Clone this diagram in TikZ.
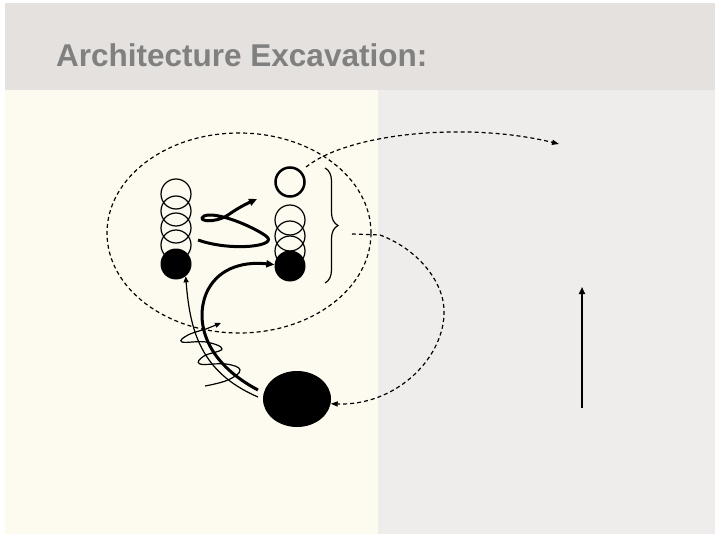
\documentclass[tikz,border=0pt]{standalone}
\usepackage{fontspec}
\setmainfont{Liberation Sans}
\usetikzlibrary{arrows.meta,shapes.geometric,decorations.pathreplacing}
\definecolor{headbg}{RGB}{228,225,222}
\definecolor{leftbg}{RGB}{253,251,240}
\definecolor{rightbg}{RGB}{238,237,235}
\definecolor{titlegray}{RGB}{128,128,128}
\tikzset{
  ring/.style={draw, circle, line width=1.2pt, minimum size=30pt, inner sep=0pt},
  dot/.style={fill=black, circle, minimum size=31pt, inner sep=0pt},
  dashlink/.style={line width=1.2pt, dash pattern=on 4pt off 3pt, -{Triangle[length=7pt,width=5pt]}},
  thinlink/.style={line width=1.2pt, -{Triangle[length=6pt,width=5pt]}},
  thicklink/.style={line width=3pt, -{Triangle[length=8pt,width=7pt]}},
}
\begin{document}
\begin{tikzpicture}[x=1pt,y=-1pt]
\useasboundingbox (0,0) rectangle (720,540);
\fill[white] (0,0) rectangle (720,540);
\fill[headbg] (5,3) rectangle (715,90);
\fill[leftbg] (5,90) rectangle (378,534);
\fill[rightbg] (378,90) rectangle (715,534);
\node[anchor=base west, inner sep=0pt, text=titlegray, font=\fontsize{31.5}{36}\selectfont\bfseries] (title) at (56,67) {Architecture Excavation:};

% dashed ellipse
\node[draw, ellipse, line width=1.2pt, dash pattern=on 4pt off 3pt, minimum width=264pt, minimum height=200pt, inner sep=0pt] (group) at (239,233) {};

% left column
\node[ring] (l1) at (176,194) {};
\node[ring] (l2) at (176,211) {};
\node[ring] (l3) at (176,228) {};
\node[ring] (l4) at (176,245) {};
\node[dot] (l5) at (176,264) {};

% right column
\node[ring, line width=2.5pt, minimum size=29pt] (r1) at (290,182) {};
\node[ring] (r2) at (290,220) {};
\node[ring] (r3) at (290,236) {};
\node[ring] (r4) at (290,251) {};
\node[dot] (r5) at (290,266) {};

% brace
\draw[line width=1.2pt, decorate, decoration={brace, amplitude=13pt}] (325,168) -- (325,283);
\coordinate (bracetip) at (352,234);

% big black ellipse
\node[fill=black, ellipse, minimum width=68pt, minimum height=56pt, inner sep=0pt] (core) at (297,399) {};

% squiggle between columns
\draw[line width=3pt, -{Triangle[length=8pt,width=7pt]}]
  (198,240) .. controls (232,252) and (280,246) .. (266,236)
  .. controls (252,226) and (216,211) .. (204,216)
  .. controls (196,221) and (214,224) .. (228,215)
  .. controls (238,208) and (246,204) .. (257,199);

% thick arrow core -> r5
\draw[thicklink] (258,390) .. controls (205,362) and (195,322) .. (206,294)
  .. controls (216,270) and (240,261) .. (r5.175);

% thin arrow core -> l5
\draw[thinlink] (258,397) .. controls (200,372) and (190,330) .. (l5.-52);

% coil
\draw[thinlink] plot[smooth, tension=0.7] coordinates {
  (205,386) (228,380) (240,370) (226,364) (200,364) (204,356) (222,349)
  (206,342) (182,342) (188,335) (206,329)} -- (221,323);

% dashed links
\coordinate (d1s) at (306,167);
\coordinate (d1e) at (559,144);
\draw[dashlink] (d1s) .. controls (350,132) and (470,122) .. (d1e);
\draw[dashlink] (bracetip) -- (380,235) .. controls (420,250) and (446,285) .. (444,315)
  .. controls (442,360) and (395,406) .. (core.-8);

% vertical arrow
\coordinate (vs) at (582,408);
\coordinate (ve) at (582,287);
\draw[line width=2.5pt, -{Triangle[length=7pt,width=6pt]}] (vs) -- (ve);
\end{tikzpicture}
\end{document}
